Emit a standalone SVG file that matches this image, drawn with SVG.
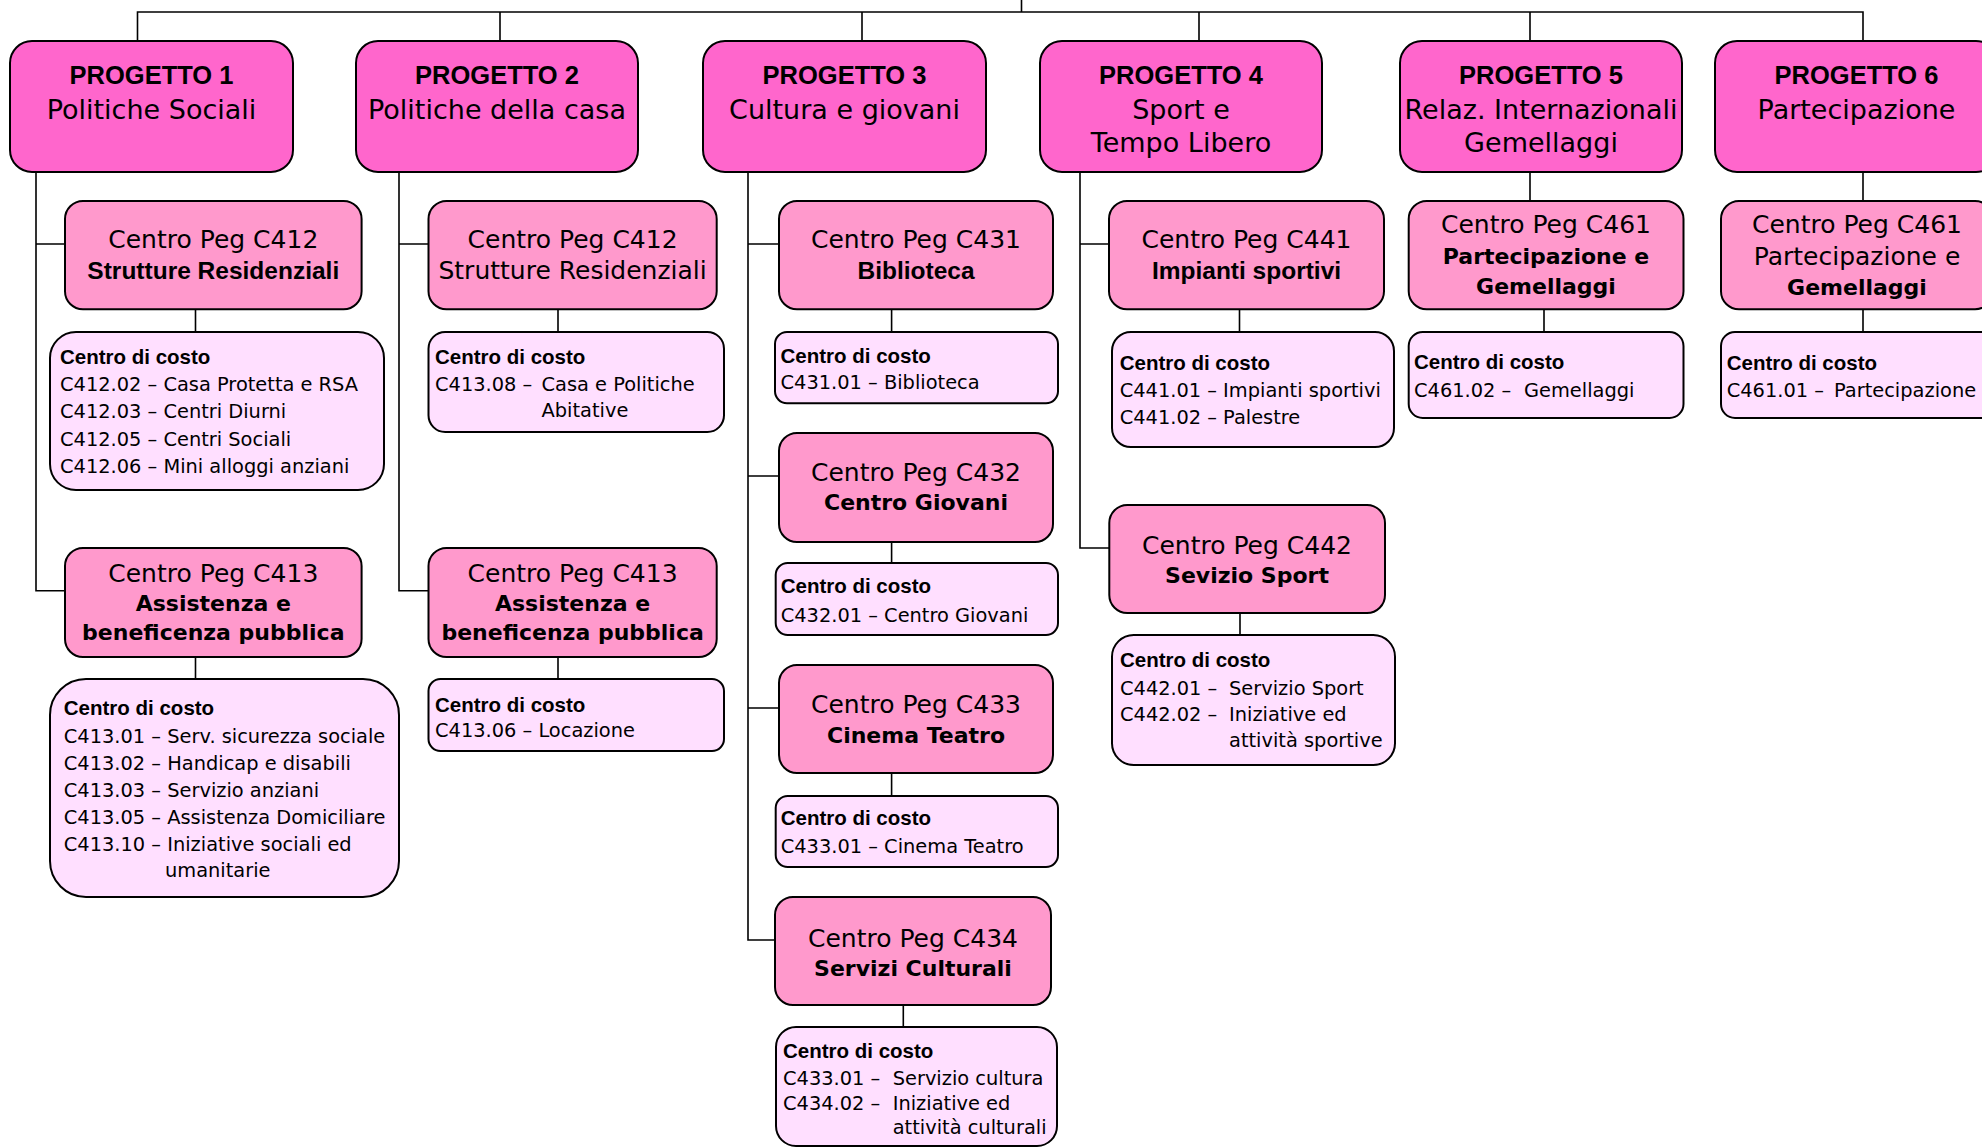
<svg xmlns="http://www.w3.org/2000/svg" width="1982" height="1148" viewBox="0 0 1982 1148">
<style>
.pj{fill:#FF66CC;stroke:#000;stroke-width:2}
.pg{fill:#FF99CC;stroke:#000;stroke-width:2}
.cc{fill:#FFDFFF;stroke:#000;stroke-width:2}
.ln{stroke:#000;stroke-width:1.6;fill:none}
text{fill:#000}
.h{font-family:"Liberation Sans",Arial,sans-serif;font-weight:bold;font-size:25.5px;text-anchor:middle}
.s{font-family:"DejaVu Sans",sans-serif;font-size:27px;text-anchor:middle}
.pr{font-family:"DejaVu Sans",sans-serif;font-size:25px;text-anchor:middle}
.pbt{font-family:"Liberation Sans",Arial,sans-serif;font-weight:bold;font-size:24.5px;text-anchor:middle}
.pbc{font-family:"DejaVu Sans",sans-serif;font-weight:bold;font-size:22px;text-anchor:middle}
.ch{font-family:"Liberation Sans",Arial,sans-serif;font-weight:bold;font-size:20.5px}
.cl{font-family:"DejaVu Sans",sans-serif;font-size:19.4px}
</style>
<rect width="1982" height="1148" fill="#fff"/>
<g id="connectors">
<path class="ln" d="M1021.5,0 V12 M137.5,41 V12 H1863 V41 M500,12 V41 M862,12 V41 M1199,12 V41 M1530,12 V41"/>
<path class="ln" d="M36,172 V590.7 H65 M36,244 H65"/>
<path class="ln" d="M399,172 V590.7 H428.5 M399,244 H428.5"/>
<path class="ln" d="M748,172 V940 H775 M748,244 H779 M748,476 H779 M748,708 H779"/>
<path class="ln" d="M1080,172 V548 H1109 M1080,244 H1109"/>
<path class="ln" d="M1530,172 V201 M1863,172 V201"/>
<path class="ln" d="M195.5,309 V332 M195.5,657 V679 M558,309 V332 M558,657 V679 M891.6,309 V332 M891.6,542 V563 M891.6,773 V796 M903.3,1005 V1027 M1239.5,309 V332 M1240,613 V635 M1544,309 V332 M1863,309 V332"/>
</g>
<g id="progetto1">
<rect class="pj" x="10" y="41" width="283" height="131" rx="22"/>
<text class="h" x="151.5" y="84">PROGETTO 1</text>
<text class="s" x="151.5" y="118.5">Politiche Sociali</text>
</g>
<g id="progetto2">
<rect class="pj" x="356" y="41" width="282" height="131" rx="22"/>
<text class="h" x="497" y="84">PROGETTO 2</text>
<text class="s" x="497" y="118.5">Politiche della casa</text>
</g>
<g id="progetto3">
<rect class="pj" x="703" y="41" width="283" height="131" rx="22"/>
<text class="h" x="844.5" y="84">PROGETTO 3</text>
<text class="s" x="844.5" y="118.5">Cultura e giovani</text>
</g>
<g id="progetto4">
<rect class="pj" x="1040" y="41" width="282" height="131" rx="22"/>
<text class="h" x="1181" y="84">PROGETTO 4</text>
<text class="s" x="1181" y="118.5">Sport e</text>
<text class="s" x="1181" y="151.7">Tempo Libero</text>
</g>
<g id="progetto5">
<rect class="pj" x="1400" y="41" width="282" height="131" rx="22"/>
<text class="h" x="1541" y="84">PROGETTO 5</text>
<text class="s" x="1541" y="118.5">Relaz. Internazionali</text>
<text class="s" x="1541" y="151.7">Gemellaggi</text>
</g>
<g id="progetto6">
<rect class="pj" x="1715" y="41" width="283" height="131" rx="22"/>
<text class="h" x="1856.5" y="84">PROGETTO 6</text>
<text class="s" x="1856.5" y="118.5">Partecipazione</text>
</g>
<g id="p1-c412">
<rect class="pg" x="65" y="201" width="296.6" height="108.3" rx="18"/>
<text class="pr" x="213.3" y="248">Centro Peg C412</text>
<text class="pbt" x="213.3" y="279">Strutture Residenziali</text>
</g>
<g id="p1-c412-costo">
<rect class="cc" x="50" y="332" width="334" height="158" rx="26"/>
<text class="ch" x="60" y="364.3">Centro di costo</text>
<text class="cl" x="60" y="391">C412.02 – Casa Protetta e RSA</text>
<text class="cl" x="60" y="418.3">C412.03 – Centri Diurni</text>
<text class="cl" x="60" y="446">C412.05 – Centri Sociali</text>
<text class="cl" x="60" y="473.3">C412.06 – Mini alloggi anziani</text>
</g>
<g id="p1-c413">
<rect class="pg" x="65" y="548" width="296.6" height="109" rx="18"/>
<text class="pr" x="213.3" y="581.7">Centro Peg C413</text>
<text class="pbc" x="213.3" y="611" font-size="22.8">Assistenza e</text>
<text class="pbc" x="213.3" y="640" font-size="22.8">beneficenza pubblica</text>
</g>
<g id="p1-c413-costo">
<rect class="cc" x="50" y="679" width="349" height="218" rx="36"/>
<text class="ch" x="63.8" y="715">Centro di costo</text>
<text class="cl" x="63.8" y="742.7">C413.01 – Serv. sicurezza sociale</text>
<text class="cl" x="63.8" y="770">C413.02 – Handicap e disabili</text>
<text class="cl" x="63.8" y="796.7">C413.03 – Servizio anziani</text>
<text class="cl" x="63.8" y="824">C413.05 – Assistenza Domiciliare</text>
<text class="cl" x="63.8" y="850.7">C413.10 – Iniziative sociali ed</text>
<text class="cl" x="165" y="876.7">umanitarie</text>
</g>
<g id="p2-c412">
<rect class="pg" x="428.5" y="201" width="288.2" height="108.3" rx="18"/>
<text class="pr" x="572.6" y="248">Centro Peg C412</text>
<text class="pr" x="572.6" y="279">Strutture Residenziali</text>
</g>
<g id="p2-c412-costo">
<rect class="cc" x="428.5" y="332" width="295.5" height="100" rx="16.7"/>
<text class="ch" x="435" y="364.3">Centro di costo</text>
<text class="cl" x="435" y="391">C413.08 –</text>
<text class="cl" x="541.5" y="391">Casa e Politiche</text>
<text class="cl" x="541.5" y="416.7">Abitative</text>
</g>
<g id="p2-c413">
<rect class="pg" x="428.5" y="548" width="288.2" height="109" rx="18"/>
<text class="pr" x="572.6" y="581.7">Centro Peg C413</text>
<text class="pbc" x="572.6" y="611" font-size="22.8">Assistenza e</text>
<text class="pbc" x="572.6" y="640" font-size="22.8">beneficenza pubblica</text>
</g>
<g id="p2-c413-costo">
<rect class="cc" x="428.5" y="679" width="295.5" height="72" rx="12"/>
<text class="ch" x="435" y="711.7">Centro di costo</text>
<text class="cl" x="435" y="736.7">C413.06 – Locazione</text>
</g>
<g id="c431">
<rect class="pg" x="779" y="201" width="274" height="108.3" rx="18"/>
<text class="pr" x="916" y="248">Centro Peg C431</text>
<text class="pbt" x="916" y="278.5">Biblioteca</text>
</g>
<g id="c431-costo">
<rect class="cc" x="775" y="332" width="283" height="71.3" rx="12"/>
<text class="ch" x="780.5" y="362.7">Centro di costo</text>
<text class="cl" x="780.5" y="389.3">C431.01 – Biblioteca</text>
</g>
<g id="c432">
<rect class="pg" x="779" y="433" width="274" height="109" rx="18"/>
<text class="pr" x="916" y="481">Centro Peg C432</text>
<text class="pbc" x="916" y="510">Centro Giovani</text>
</g>
<g id="c432-costo">
<rect class="cc" x="775.7" y="563" width="282.3" height="72" rx="12"/>
<text class="ch" x="780.7" y="593">Centro di costo</text>
<text class="cl" x="780.7" y="621.7">C432.01 – Centro Giovani</text>
</g>
<g id="c433">
<rect class="pg" x="779" y="665" width="274" height="108" rx="18"/>
<text class="pr" x="916" y="713.3">Centro Peg C433</text>
<text class="pbc" x="916" y="743.3">Cinema Teatro</text>
</g>
<g id="c433-costo">
<rect class="cc" x="775.7" y="796" width="282.3" height="71" rx="12"/>
<text class="ch" x="780.7" y="825">Centro di costo</text>
<text class="cl" x="780.7" y="853.3">C433.01 – Cinema Teatro</text>
</g>
<g id="c434">
<rect class="pg" x="775" y="897" width="276" height="108" rx="18"/>
<text class="pr" x="913" y="946.7">Centro Peg C434</text>
<text class="pbc" x="913" y="975.5" font-size="20.8">Servizi Culturali</text>
</g>
<g id="c434-costo">
<rect class="cc" x="776" y="1027" width="281" height="119" rx="20"/>
<text class="ch" x="783" y="1058.3">Centro di costo</text>
<text class="cl" x="783" y="1084.5">C433.01 –</text>
<text class="cl" x="892.7" y="1084.5">Servizio cultura</text>
<text class="cl" x="783" y="1109.5">C434.02 –</text>
<text class="cl" x="892.7" y="1109.5">Iniziative ed</text>
<text class="cl" x="892.7" y="1133.5">attività culturali</text>
</g>
<g id="c441">
<rect class="pg" x="1109" y="201" width="275" height="108.3" rx="18"/>
<text class="pr" x="1246.5" y="248">Centro Peg C441</text>
<text class="pbt" x="1246.5" y="278.5">Impianti sportivi</text>
</g>
<g id="c441-costo">
<rect class="cc" x="1112" y="332" width="282" height="115" rx="19"/>
<text class="ch" x="1119.7" y="370">Centro di costo</text>
<text class="cl" x="1119.7" y="396.7">C441.01 – Impianti sportivi</text>
<text class="cl" x="1119.7" y="424">C441.02 – Palestre</text>
</g>
<g id="c442">
<rect class="pg" x="1109.3" y="505" width="275.7" height="108" rx="18"/>
<text class="pr" x="1247" y="554.3">Centro Peg C442</text>
<text class="pbc" x="1247" y="583.3" font-size="20.8">Sevizio Sport</text>
</g>
<g id="c442-costo">
<rect class="cc" x="1112" y="635" width="283" height="130" rx="21.7"/>
<text class="ch" x="1120" y="666.7">Centro di costo</text>
<text class="cl" x="1120" y="695">C442.01 –</text>
<text class="cl" x="1229" y="695">Servizio Sport</text>
<text class="cl" x="1120" y="720.7">C442.02 –</text>
<text class="cl" x="1229" y="720.7">Iniziative ed</text>
<text class="cl" x="1229" y="746.7">attività sportive</text>
</g>
<g id="p5-c461">
<rect class="pg" x="1408.7" y="201" width="274.8" height="108.3" rx="18"/>
<text class="pr" x="1546" y="233">Centro Peg C461</text>
<text class="pbc" x="1546" y="263.5">Partecipazione e</text>
<text class="pbc" x="1546" y="293.5" font-size="23.2">Gemellaggi</text>
</g>
<g id="p5-c461-costo">
<rect class="cc" x="1408.7" y="332" width="274.8" height="86" rx="14"/>
<text class="ch" x="1414" y="369">Centro di costo</text>
<text class="cl" x="1414" y="397">C461.02 –</text>
<text class="cl" x="1524" y="397">Gemellaggi</text>
</g>
<g id="p6-c461">
<rect class="pg" x="1721" y="201" width="272" height="108.3" rx="18"/>
<text class="pr" x="1857" y="233">Centro Peg C461</text>
<text class="pr" x="1857" y="265">Partecipazione e</text>
<text class="pbc" x="1857" y="295" font-size="23.2">Gemellaggi</text>
</g>
<g id="p6-c461-costo">
<rect class="cc" x="1721" y="332" width="275" height="86" rx="14"/>
<text class="ch" x="1726.7" y="370">Centro di costo</text>
<text class="cl" x="1726.7" y="396.7">C461.01 –</text>
<text class="cl" x="1834" y="396.7">Partecipazione</text>
</g>
</svg>
